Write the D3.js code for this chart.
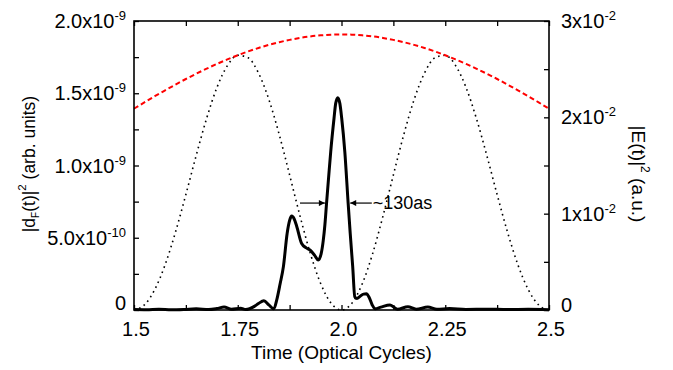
<!DOCTYPE html>
<html><head><meta charset="utf-8">
<script src="https://cdn.jsdelivr.net/npm/d3@7"></script>
<style>
html,body{margin:0;padding:0;background:#fff;}
text{font-family:"Liberation Sans",Arial,sans-serif;fill:#000;}
</style></head>
<body><svg id="c" width="673" height="370"></svg>
<script>
// ---- data ----
// time axis for the field curves (optical cycles)
const tField = [1.5,1.525,1.55,1.575,1.6,1.625,1.65,1.675,1.7,1.725,1.75,1.775,1.8,1.825,1.85,1.875,1.9,1.925,1.95,1.975,2.0,
  2.025,2.05,2.075,2.1,2.125,2.15,2.175,2.2,2.225,2.25,2.275,2.3,2.325,2.35,2.375,2.4,2.425,2.45,2.475,2.5];
// envelope |E(t)|^2 (red dashed, right axis, a.u.)
const envelope = [0.02090,0.02155,0.02219,0.02280,0.02340,0.02398,0.02453,0.02505,0.02555,0.02601,0.02644,0.02684,0.02720,0.02752,0.02780,0.02804,0.02824,0.02840,0.02851,0.02858,0.02860,
  0.02858,0.02851,0.02840,0.02824,0.02804,0.02780,0.02752,0.02720,0.02684,0.02644,0.02601,0.02555,0.02505,0.02453,0.02398,0.02340,0.02280,0.02219,0.02155,0.02090];
// field |E(t)|^2 (black dotted, right axis, a.u.)
const field = [0,0.00053,0.00212,0.00470,0.00809,0.01199,0.01606,0.01989,0.02311,0.02537,0.02644,0.02618,0.02460,0.02185,0.01820,0.01402,0.00976,0.00585,0.00272,0.00070,0,
  0.00070,0.00272,0.00585,0.00976,0.01402,0.01820,0.02185,0.02460,0.02618,0.02644,0.02537,0.02311,0.01989,0.01606,0.01199,0.00809,0.00470,0.00212,0.00053,0];
// |d_F(t)|^2 (black solid, left axis), values in units of 1e-10
const tPulse = [1.50,1.53,1.56,1.59,1.62,1.65,1.68,1.70,1.717,1.735,1.757,1.769,1.79,1.80,1.813,1.825,1.837,1.844,1.852,1.860,1.869,1.875,1.880,1.886,1.892,1.904,1.915,1.924,1.935,1.944,1.951,1.956,1.960,1.964,1.969,1.974,1.982,1.986,1.991,1.996,2.0005,2.008,2.016,2.021,2.027,2.032,2.037,2.045,2.053,2.060,2.067,2.074,2.081,2.095,2.117,2.135,2.16,2.18,2.208,2.23,2.26,2.30,2.35,2.40,2.45,2.50];
const dPulse = [0.03,0.02,0.05,0.02,0.04,0.08,0.03,0.10,0.20,0.05,0.12,0.03,0.25,0.45,0.64,0.35,0.08,0.70,1.8,3.0,5.3,6.2,6.5,6.3,5.8,4.6,4.3,4.15,3.8,3.46,3.9,4.8,5.9,7.4,9.2,10.95,13.27,14.3,14.69,14.3,13.27,10.95,7.4,5.3,3.0,0.92,0.80,0.95,1.1,1.12,0.85,0.35,0.08,0.2,0.35,0.05,0.23,0.05,0.2,0.05,0.1,0.04,0.06,0.03,0.05,0.02];
const PULSE_UNIT = 1e-10;
// ticks
const xTickLabels = ["1.5","1.75","2.0","2.25","2.5"];
const xTickValues = [1.5,1.75,2.0,2.25,2.5];
const leftTickValues = [0,5e-10,1e-9,1.5e-9,2e-9];
const leftTickMant = ["0","5.0x10","1.0x10","1.5x10","2.0x10"];
const leftTickExp = ["","-10","-9","-9","-9"];
const rightTickValues = [0,0.01,0.02,0.03];
const rightTickMant = ["0","1x10","2x10","3x10"];
const rightTickExp = ["","-2","-2","-2"];
// FWHM annotation: arrow [tail, head] times and level (left axis units 1e-10)
const arrowLeft = [1.900, 1.960];
const arrowRight = [2.073, 2.021];
const arrowLevel = 7.4;
const annotation = "~130as";

// ---- layout ----
const L=134, R=549, T=21, B=310;
const svg = d3.select("#c");
const x = d3.scaleLinear().domain([1.5,2.5]).range([L,R]);
const yL = d3.scaleLinear().domain([0,2e-9]).range([B,T]);
const yR = d3.scaleLinear().domain([0,0.03]).range([B,T]);

// curves
const env = tField.map((t,i)=>[t,envelope[i]]);
const fld = tField.map((t,i)=>[t,field[i]]);
const pul = tPulse.map((t,i)=>[t,dPulse[i]*PULSE_UNIT]);

svg.append("path").datum(fld)
  .attr("d", d3.line().x(d=>x(d[0])).y(d=>yR(d[1])).curve(d3.curveMonotoneX))
  .attr("fill","none").attr("stroke","#000").attr("stroke-width",1.6)
  .attr("stroke-dasharray","1.6,3.8");
svg.append("path").datum(env)
  .attr("d", d3.line().x(d=>x(d[0])).y(d=>yR(d[1])).curve(d3.curveMonotoneX))
  .attr("fill","none").attr("stroke","#ff0000").attr("stroke-width",2)
  .attr("stroke-dasharray","5,3");
svg.append("path").datum(pul)
  .attr("d", d3.line().x(d=>x(d[0])).y(d=>yL(d[1])).curve(d3.curveMonotoneX))
  .attr("fill","none").attr("stroke","#000").attr("stroke-width",3).attr("stroke-linejoin","round");

// axes (ticks inward)
const tl=5;
const xTicksAll = d3.range(0,9).map(i=>1.5+i*0.125);
svg.append("g").attr("transform",`translate(0,${B})`)
  .call(d3.axisTop(x).tickValues(xTicksAll).tickSize(tl).tickFormat(""))
  .call(g=>g.select(".domain").remove());
svg.append("g").attr("transform",`translate(0,${T})`)
  .call(d3.axisBottom(x).tickValues(xTicksAll).tickSize(tl).tickFormat(""))
  .call(g=>g.select(".domain").remove());
svg.append("g").attr("transform",`translate(${L},0)`)
  .call(d3.axisRight(yL).tickValues(d3.range(0,9).map(i=>i*0.25e-9)).tickSize(tl).tickFormat(""))
  .call(g=>g.select(".domain").remove());
svg.append("g").attr("transform",`translate(${R},0)`)
  .call(d3.axisLeft(yR).tickValues(d3.range(0,7).map(i=>i*0.005)).tickSize(tl).tickFormat(""))
  .call(g=>g.select(".domain").remove());
svg.selectAll(".tick line").attr("stroke","#000").attr("stroke-width",1.3);
svg.append("rect").attr("x",L).attr("y",T).attr("width",R-L).attr("height",B-T)
  .attr("fill","none").attr("stroke","#000").attr("stroke-width",1.6);

// tick labels
const fs=20, sfs=13;
svg.selectAll(".xl").data(xTickValues).enter().append("text")
  .attr("x",d=>x(d)+2).attr("y",336).attr("text-anchor","middle").attr("font-size",fs)
  .text((d,i)=>xTickLabels[i]);
leftTickValues.forEach((v,i)=>{
  const t=svg.append("text").attr("x",126).attr("y",Math.min(yL(v)+7,310)).attr("text-anchor","end").attr("font-size",fs);
  t.append("tspan").text(leftTickMant[i]);
  if(leftTickExp[i]) t.append("tspan").attr("font-size",sfs).attr("dy",-8).text(leftTickExp[i]);
});
rightTickValues.forEach((v,i)=>{
  const t=svg.append("text").attr("x",561).attr("y",Math.min(yR(v)+7,312)).attr("text-anchor","start").attr("font-size",fs);
  t.append("tspan").text(rightTickMant[i]);
  if(rightTickExp[i]) t.append("tspan").attr("font-size",sfs).attr("dy",-8).text(rightTickExp[i]);
});

// axis titles
svg.append("text").attr("x",(L+R)/2+0).attr("y",359).attr("text-anchor","middle").attr("font-size",19)
  .text("Time (Optical Cycles)");
const lt = svg.append("text").attr("transform",`translate(35,164) rotate(-90)`).attr("text-anchor","middle").attr("font-size",17.5);
lt.append("tspan").text("|d");
lt.append("tspan").attr("font-size",10).attr("dy",4).text("F");
lt.append("tspan").attr("dy",-4).text("(t)|");
lt.append("tspan").attr("font-size",11.5).attr("dy",-9).text("2");
lt.append("tspan").attr("dy",9).text(" (arb. units)");
const rt = svg.append("text").attr("transform",`translate(632,174) rotate(90)`).attr("text-anchor","middle").attr("font-size",19);
rt.append("tspan").text("|E(t)|");
rt.append("tspan").attr("font-size",12).attr("dy",-9).text("2");
rt.append("tspan").attr("dy",9).text(" (a.u.)");

// FWHM annotation arrows
const ay = yL(arrowLevel*PULSE_UNIT);
svg.append("defs").append("marker").attr("id","ah").attr("viewBox","0 0 10 10").attr("refX",10).attr("refY",5)
  .attr("markerWidth",9).attr("markerHeight",6).attr("markerUnits","userSpaceOnUse").attr("orient","auto")
  .append("path").attr("d","M0,0 L10,5 L0,10 z").attr("fill","#000");
[arrowLeft, arrowRight].forEach(a=>{
  svg.append("line").attr("x1",x(a[0])).attr("x2",x(a[1])).attr("y1",ay).attr("y2",ay)
    .attr("stroke","#000").attr("stroke-width",1.2).attr("marker-end","url(#ah)");
});
svg.append("text").attr("x",x(arrowRight[0])+1).attr("y",ay+6).attr("font-size",18).text(annotation);
</script></body></html>
